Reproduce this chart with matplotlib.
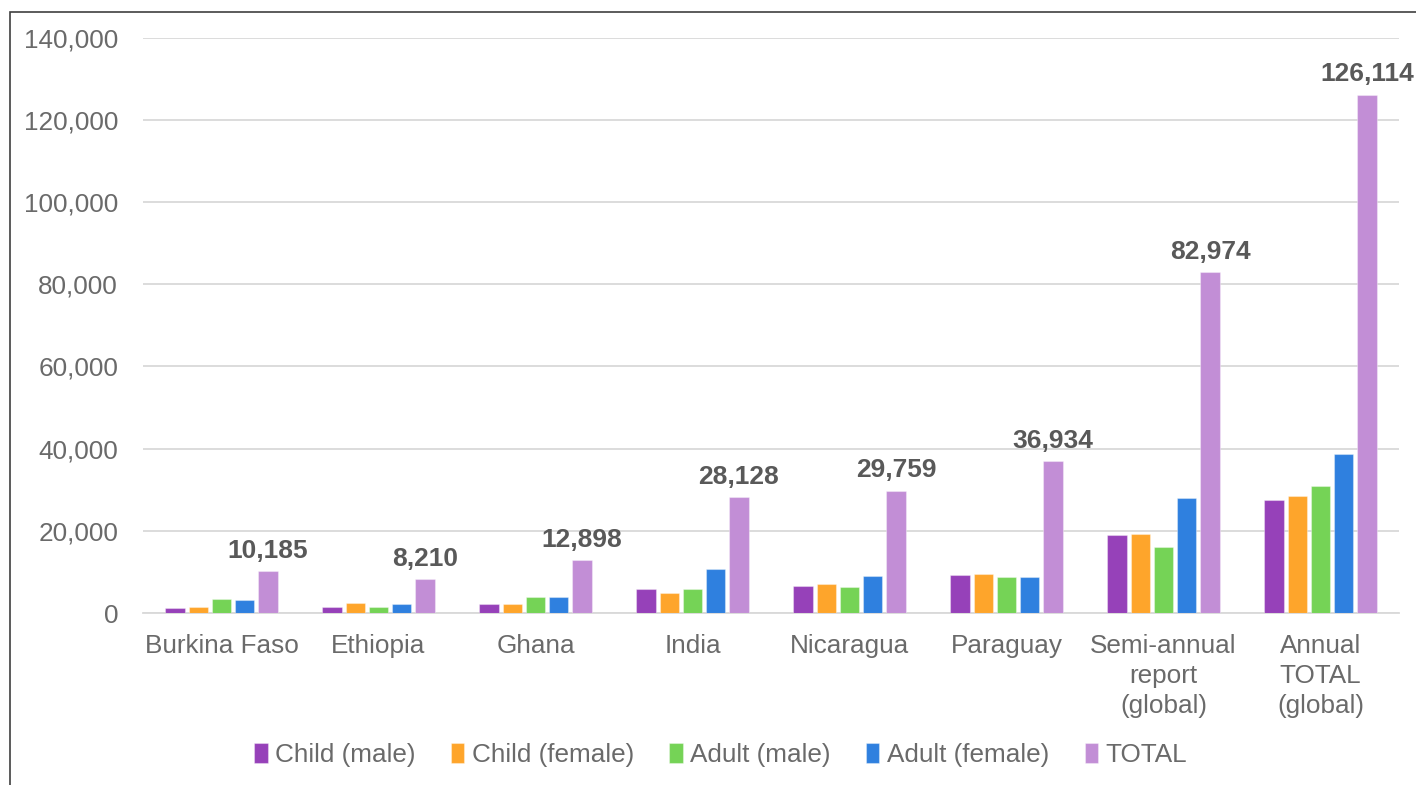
import matplotlib
matplotlib.use("Agg")
import matplotlib.pyplot as plt
import numpy as np
from matplotlib.patches import Rectangle

plt.rcParams['font.family'] = ['Liberation Sans', 'DejaVu Sans']

categories = ["Burkina Faso", "Ethiopia", "Ghana", "India", "Nicaragua", "Paraguay",
              "Semi-annual\nreport\n(global)", "Annual\nTOTAL\n(global)"]
child_male = [1200, 1500, 2200, 5800, 6600, 9200, 18900, 27400]
child_female = [1600, 2400, 2200, 5000, 7100, 9400, 19200, 28500]
adult_male = [3400, 1500, 3900, 5850, 6300, 8750, 16050, 30800]
adult_female = [3200, 2300, 3800, 10700, 9000, 8900, 27900, 38700]
total = [10185, 8210, 12898, 28128, 29759, 36934, 82974, 126114]

series_names = ["Child (male)", "Child (female)", "Adult (male)", "Adult (female)", "TOTAL"]
series = [child_male, child_female, adult_male, adult_female, total]
colors = ["#9641B9", "#FEA52B", "#75D356", "#2F80DF", "#C28ED6"]

fig = plt.figure(figsize=(14.16, 7.85), dpi=100)
ax = fig.add_axes([0.101, 0.219, 0.887, 0.733])

x = np.arange(len(categories))
slot = 0.148
bw = 0.123
for i, (name, vals, c) in enumerate(zip(series_names, series, colors)):
    pos = x + (i - 2) * slot
    bars = ax.bar(pos, vals, width=bw, color=c, label=name, zorder=3,
                  edgecolor=(1, 1, 1, 0.35), linewidth=0.8)
    if name == "TOTAL":
        for b, v in zip(bars, vals):
            ax.annotate(f"{v:,}", (b.get_x() + b.get_width() / 2, v),
                        xytext=(0, 6), textcoords="offset points",
                        ha="center", va="bottom", fontsize=19,
                        fontweight="bold", color="#595959")

ax.set_xlim(-0.5, len(categories) - 0.5)
ax.set_ylim(0, 140000)
ax.set_yticks(np.arange(0, 140001, 20000))
ax.yaxis.set_major_formatter(matplotlib.ticker.FuncFormatter(lambda v, p: f"{int(v):,}"))
ax.set_xticks(x)
ax.set_xticklabels(categories, linespacing=1.33)
ax.tick_params(axis='both', length=0, labelsize=18.8, labelcolor="#6a6a6a")
ax.tick_params(axis='x', pad=15)
ax.tick_params(axis='y', pad=18)
ax.grid(axis='y', color="#d9d9d9", linewidth=1.3, zorder=0)
for s in ["top", "right", "left"]:
    ax.spines[s].set_visible(False)
ax.spines["bottom"].set_color("#d9d9d9")
ax.spines["bottom"].set_linewidth(1.3)

leg = fig.legend(loc="center", bbox_to_anchor=(0.509, 0.038), ncol=5, frameon=False,
                 fontsize=18.8, handlelength=0.5, handleheight=0.8, handletextpad=0.3,
                 columnspacing=1.35, labelcolor="#6a6a6a")

fig.patches.append(Rectangle((10 / 1416, -0.1), 1.2, 1.1 - 12 / 785,
                             transform=fig.transFigure, fill=False,
                             edgecolor="#404040", linewidth=1.2))

fig.savefig("out.png", dpi=100)
